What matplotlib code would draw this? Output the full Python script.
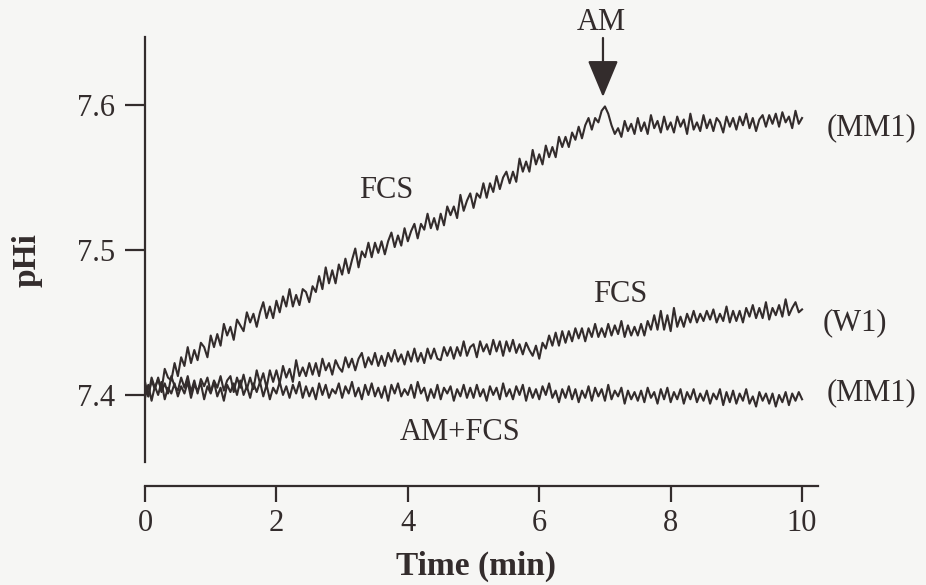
import numpy as np
import matplotlib
matplotlib.use('Agg')
import matplotlib.pyplot as plt

# 采样时间 (min)，每0.05 min一个点
t = np.round(np.arange(201) * 0.05, 2)

# FCS, MM1 (上方曲线, 约7 min 处加 AM)
ph_mm1_fcs = [
    7.407, 7.399, 7.412, 7.405, 7.411, 7.403, 7.418, 7.412, 7.410, 7.422,
    7.413, 7.426, 7.420, 7.433, 7.422, 7.431, 7.424, 7.436, 7.433, 7.426,
    7.441, 7.433, 7.442, 7.434, 7.449, 7.441, 7.447, 7.438, 7.452, 7.448,
    7.444, 7.457, 7.450, 7.456, 7.447, 7.457, 7.464, 7.453, 7.461, 7.453,
    7.465, 7.457, 7.468, 7.461, 7.473, 7.461, 7.469, 7.462, 7.473, 7.471,
    7.464, 7.475, 7.471, 7.482, 7.473, 7.488, 7.477, 7.486, 7.477, 7.490,
    7.483, 7.494, 7.484, 7.493, 7.501, 7.488, 7.499, 7.495, 7.505, 7.495,
    7.505, 7.498, 7.506, 7.497, 7.506, 7.512, 7.502, 7.510, 7.503, 7.515,
    7.506, 7.513, 7.518, 7.508, 7.518, 7.514, 7.525, 7.515, 7.522, 7.514,
    7.525, 7.517, 7.530, 7.524, 7.530, 7.522, 7.538, 7.527, 7.534, 7.539,
    7.529, 7.539, 7.536, 7.546, 7.536, 7.546, 7.540, 7.551, 7.542, 7.550,
    7.554, 7.546, 7.554, 7.547, 7.563, 7.554, 7.561, 7.554, 7.569, 7.559,
    7.566, 7.559, 7.572, 7.564, 7.571, 7.564, 7.578, 7.571, 7.578, 7.571,
    7.581, 7.576, 7.585, 7.577, 7.586, 7.591, 7.583, 7.591, 7.588, 7.596,
    7.599, 7.594, 7.586, 7.580, 7.584, 7.578, 7.589, 7.582, 7.587, 7.580,
    7.591, 7.582, 7.588, 7.580, 7.593, 7.584, 7.589, 7.581, 7.592, 7.583,
    7.588, 7.581, 7.592, 7.585, 7.590, 7.580, 7.594, 7.583, 7.588, 7.582,
    7.593, 7.584, 7.590, 7.582, 7.591, 7.588, 7.581, 7.592, 7.585, 7.591,
    7.583, 7.592, 7.586, 7.594, 7.584, 7.591, 7.582, 7.590, 7.593, 7.585,
    7.593, 7.587, 7.594, 7.585, 7.595, 7.588, 7.592, 7.584, 7.596, 7.587,
    7.591]

# FCS, W1 (中间曲线)
ph_w1_fcs = [
    7.409, 7.399, 7.410, 7.404, 7.412, 7.402, 7.408, 7.401, 7.413, 7.406,
    7.403, 7.412, 7.405, 7.413, 7.402, 7.410, 7.401, 7.411, 7.406, 7.412,
    7.402, 7.410, 7.405, 7.413, 7.403, 7.410, 7.413, 7.402, 7.412, 7.405,
    7.414, 7.404, 7.412, 7.404, 7.417, 7.408, 7.415, 7.405, 7.417, 7.409,
    7.417, 7.408, 7.420, 7.412, 7.418, 7.409, 7.424, 7.413, 7.419, 7.413,
    7.422, 7.414, 7.422, 7.413, 7.425, 7.417, 7.422, 7.414, 7.424, 7.419,
    7.416, 7.426, 7.419, 7.425, 7.417, 7.425, 7.429, 7.419, 7.426, 7.421,
    7.429, 7.420, 7.427, 7.420, 7.429, 7.423, 7.431, 7.423, 7.428, 7.421,
    7.430, 7.423, 7.432, 7.423, 7.429, 7.422, 7.432, 7.425, 7.432, 7.425,
    7.424, 7.433, 7.427, 7.433, 7.425, 7.433, 7.427, 7.437, 7.427, 7.433,
    7.435, 7.426, 7.437, 7.430, 7.435, 7.428, 7.438, 7.430, 7.437, 7.427,
    7.437, 7.430, 7.438, 7.429, 7.435, 7.428, 7.436, 7.431, 7.427, 7.434,
    7.425, 7.436, 7.432, 7.441, 7.434, 7.443, 7.434, 7.444, 7.436, 7.444,
    7.437, 7.446, 7.439, 7.446, 7.437, 7.446, 7.440, 7.449, 7.440, 7.446,
    7.440, 7.449, 7.441, 7.448, 7.442, 7.451, 7.440, 7.448, 7.441, 7.447,
    7.441, 7.449, 7.441, 7.451, 7.445, 7.455, 7.445, 7.458, 7.445, 7.455,
    7.444, 7.460, 7.447, 7.454, 7.447, 7.456, 7.450, 7.458, 7.450, 7.456,
    7.451, 7.458, 7.452, 7.459, 7.450, 7.456, 7.451, 7.461, 7.450, 7.458,
    7.451, 7.458, 7.450, 7.460, 7.454, 7.462, 7.453, 7.460, 7.453, 7.464,
    7.452, 7.460, 7.455, 7.462, 7.454, 7.466, 7.455, 7.460, 7.464, 7.457,
    7.459]

# AM+FCS, MM1 (下方曲线)
ph_mm1_am_fcs = [
    7.398, 7.407, 7.396, 7.406, 7.400, 7.409, 7.397, 7.405, 7.401, 7.408,
    7.399, 7.406, 7.401, 7.409, 7.398, 7.407, 7.403, 7.408, 7.397, 7.406,
    7.401, 7.409, 7.399, 7.405, 7.396, 7.407, 7.402, 7.408, 7.400, 7.410,
    7.400, 7.406, 7.398, 7.408, 7.402, 7.409, 7.399, 7.407, 7.397, 7.405,
    7.401, 7.409, 7.400, 7.406, 7.398, 7.407, 7.401, 7.409, 7.398, 7.406,
    7.399, 7.405, 7.397, 7.408, 7.400, 7.407, 7.398, 7.404, 7.401, 7.408,
    7.398, 7.406, 7.401, 7.409, 7.399, 7.405, 7.397, 7.407, 7.400, 7.408,
    7.399, 7.405, 7.398, 7.406, 7.396, 7.407, 7.401, 7.408, 7.399, 7.404,
    7.400, 7.407, 7.398, 7.409, 7.401, 7.405, 7.396, 7.404, 7.398, 7.407,
    7.397, 7.405, 7.401, 7.406, 7.396, 7.404, 7.399, 7.407, 7.398, 7.405,
    7.398, 7.407, 7.399, 7.404, 7.396, 7.406, 7.400, 7.405, 7.397, 7.408,
    7.399, 7.404, 7.397, 7.406, 7.400, 7.407, 7.396, 7.405, 7.398, 7.404,
    7.397, 7.406, 7.400, 7.408, 7.398, 7.403, 7.395, 7.404, 7.398, 7.406,
    7.397, 7.404, 7.395, 7.403, 7.398, 7.406, 7.396, 7.405, 7.399, 7.404,
    7.396, 7.407, 7.397, 7.403, 7.399, 7.405, 7.394, 7.403, 7.397, 7.402,
    7.396, 7.403, 7.395, 7.405, 7.398, 7.402, 7.394, 7.404, 7.397, 7.405,
    7.395, 7.402, 7.397, 7.404, 7.394, 7.402, 7.397, 7.404, 7.395, 7.401,
    7.396, 7.403, 7.394, 7.401, 7.397, 7.404, 7.393, 7.402, 7.395, 7.403,
    7.394, 7.401, 7.396, 7.404, 7.394, 7.399, 7.392, 7.402, 7.396, 7.401,
    7.394, 7.401, 7.392, 7.400, 7.395, 7.402, 7.393, 7.401, 7.396, 7.402,
    7.397]

x_ticks = [0, 2, 4, 6, 8, 10]
y_ticks = [7.4, 7.5, 7.6]
am_time = 6.97

ink = '#332c2c'
paper = '#f6f6f4'
plt.rcParams['font.family'] = ['Liberation Serif', 'DejaVu Serif']

fig = plt.figure(figsize=(9.26, 5.85), dpi=100, facecolor=paper)
ax = fig.add_axes([0.1566, 0.1692, 0.7268, 0.7676])
ax.set_facecolor(paper)

for series in (ph_mm1_fcs, ph_w1_fcs, ph_mm1_am_fcs):
    ax.plot(t, series, color=ink, linewidth=1.5)

ax.set_xlim(0, 10.243)
ax.set_ylim(7.3372, 7.6469)
ax.spines['top'].set_visible(False)
ax.spines['right'].set_visible(False)
for s in ('left', 'bottom'):
    ax.spines[s].set_color(ink)
    ax.spines[s].set_linewidth(1.6)
ax.spines['left'].set_bounds(7.3538, 7.6469)

ax.set_xticks(x_ticks)
ax.set_xticklabels([str(v) for v in x_ticks])
ax.set_yticks(y_ticks)
ax.set_yticklabels(['%.1f' % v for v in y_ticks])
ax.tick_params(axis='x', direction='out', length=11.5, width=1.6, pad=5,
               labelsize=22, colors=ink)
ax.tick_params(axis='y', direction='out', length=14.4, width=1.6, pad=7,
               labelsize=22, colors=ink)

ax.set_ylabel('pHi', fontsize=24, fontweight='bold', color=ink)
ax.yaxis.set_label_coords(-0.1516, 0.503)
ax.set_xlabel('Time (min)', fontsize=24, fontweight='bold', color=ink)
ax.xaxis.label.set_va('center')
ax.xaxis.set_label_coords(0.492, -0.180)

# 文字标注
txt = dict(fontsize=22, color=ink, ha='center', va='center', clip_on=False)
ax.text(3.67, 7.5407, 'FCS', **txt)
ax.text(7.23, 7.469, 'FCS', **txt)
ax.text(4.79, 7.3738, 'AM+FCS', **txt)
ax.text(11.05, 7.584, '(MM1)', **txt)
ax.text(10.81, 7.4497, '(W1)', **txt)
ax.text(11.05, 7.4014, '(MM1)', **txt)
ax.text(6.94, 7.6566, 'AM', **txt)

ax.annotate('', xy=(am_time, 7.6055), xytext=(am_time, 7.6462),
            annotation_clip=False,
            arrowprops=dict(arrowstyle='-|>,head_length=1.15,head_width=0.48',
                            mutation_scale=20, color=ink, lw=1.6,
                            shrinkA=0, shrinkB=0))

fig.savefig('out.png', dpi=100, facecolor=paper)
